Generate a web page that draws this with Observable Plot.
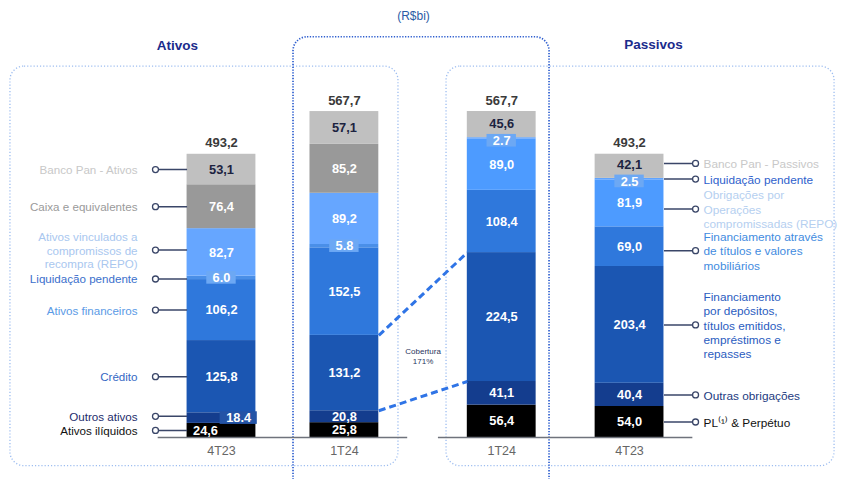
<!DOCTYPE html>
<html><head><meta charset="utf-8">
<script src="https://cdn.jsdelivr.net/npm/d3@7"></script>
<script src="https://cdn.jsdelivr.net/npm/@observablehq/plot@0.6"></script>
<style>
html,body{margin:0;padding:0;background:#fff}
#chart svg{display:block}
</style></head><body><div id="chart"></div>
<script>
// ---------------- DATA ----------------
const columnNames = ["4T23", "1T24", "1T24", "4T23"];
const assetLabels = [
  "Ativos ilíquidos", "Outros ativos", "Crédito", "Ativos financeiros",
  "Liquidação pendente", "Ativos vinculados a\ncompromissos de\nrecompra (REPO)",
  "Caixa e equivalentes", "Banco Pan - Ativos"
];
const assets4T23 = [24.6, 18.4, 125.8, 106.2, 6.0, 82.7, 76.4, 53.1];
const assets1T24 = [25.8, 20.8, 131.2, 152.5, 5.8, 89.2, 85.2, 57.1];
const liabLabels = [
  "PL⁽¹⁾ & Perpétuo", "Outras obrigações",
  "Financiamento\npor depósitos,\ntítulos emitidos,\nempréstimos e\nrepasses",
  "Financiamento através\nde títulos e valores\nmobiliários",
  "Obrigações por\nOperações\ncompromissadas (REPO)",
  "Liquidação pendente", "Banco Pan - Passivos"
];
const liab1T24 = [56.4, 41.1, 224.5, 108.4, 89.0, 2.7, 45.6];
const liab4T23 = [54.0, 40.4, 203.4, 69.0, 81.9, 2.5, 42.1];
const totals = [493.2, 567.7, 567.7, 493.2];
const unitText = "(R$bi)";
const sideTitles = ["Ativos", "Passivos"];
const coverageText = "Cobertura\n171%";

// ---------------- LAYOUT / STYLE ----------------
const FONT = "'Liberation Sans', Arial, Helvetica, sans-serif";
const slot = [0, 1, 2.28, 3.32];          // column centres on the x scale
const half = 0.28;                         // half bar width (x units)
const axisPad = 0.235;
const assetFill = ["#000000", "#143d8e", "#1b56b2", "#2f78dc", "#4a8fe8", "#66a6ff", "#999999", "#c0c0c0"];
const liabFill  = ["#000000", "#143d8e", "#1b56b2", "#2f78dc", "#4d9bff", "#5fa3ff", "#bfbfbf"];
const assetLabelColor = ["#111111", "#1c2c6c", "#3467c4", "#5a9ae6", "#3b6fcc", "#a9c7ef", "#9a9a9a", "#c8c8c8"];
const liabLabelColor  = ["#111111", "#1c3a80", "#2a5cc0", "#3f8be0", "#b5cff0", "#2f5fcc", "#c8c8c8"];
const assetLabelShift = [0, 3, 0, 0, -2, 4, 0, 0];   // y-units nudge for left labels
const liabLabelShift  = [0, 0, 0, -7, -10, 0, 5];    // y-units nudge for right labels
const valueDx4T23 = [-0.13, 0.14];                   // nudges of the two smallest labels in first column
const liabValueShift = [0, 0, 0, 0, 0, -4, 2];       // y-units nudge of value labels in liability bars

const stacks = [assets4T23, assets1T24, liab1T24, liab4T23];
const segs = [];
stacks.forEach((vals, c) => {
  let cum = 0;
  vals.forEach((v, i) => {
    const asset = c < 2;
    segs.push({
      c, i, v, y1: cum, y2: cum + v, mid: cum + v / 2,
      ly: cum + v / 2 + (asset ? 0 : liabValueShift[i]),
      fill: asset ? assetFill[i] : liabFill[i],
      isPan: asset ? i === 7 : i === 6,
      small: v < 20 && i !== 0,
      xc: slot[c] + (c === 0 && i < 2 ? valueDx4T23[i] : 0)
    });
    cum += v;
  });
});
const fmt = d3.format(".1f");
const valueLabel = v => v < 20 ? fmt(v) : fmt(v).replace(".", ",");
const commaLabel = v => fmt(v).replace(".", ",");

const leftRows = segs.filter(d => d.c === 0).map(d => ({mid: d.mid + assetLabelShift[d.i], text: assetLabels[d.i], color: assetLabelColor[d.i]}));
const rightRows = segs.filter(d => d.c === 3).map(d => ({mid: d.mid + liabLabelShift[d.i], text: liabLabels[d.i], color: liabLabelColor[d.i]}));

const cum = (arr, n) => d3.sum(arr.slice(0, n));
const coverageLinks = [
  {x1: slot[1] + half, y1: cum(assets1T24, 3), x2: slot[2] - half, y2: cum(liab1T24, 3)},
  {x1: slot[1] + half, y1: cum(assets1T24, 2), x2: slot[2] - half, y2: cum(liab1T24, 2)}
];
const baselines = [
  {x1: slot[0] - half - axisPad, x2: slot[1] + half + axisPad},
  {x1: slot[2] - half - axisPad, x2: slot[3] + half + axisPad}
];
const outerBoxes = [
  {x1: -1.717, x2: 1.440, y1: -50, y2: 646},
  {x1: 1.831, x2: 4.988, y1: -50, y2: 646}
];
const middleBox = [{x1: 0.586, x2: 2.669, y1: -95, y2: 697}];
const titleRows = [
  {x: -0.358, y: 683, text: sideTitles[0]},
  {x: 3.515, y: 684, text: sideTitles[1]}
];

const tickName = new Map(slot.map((s, i) => [s, columnNames[i]]));

const chart = Plot.plot({
  width: 845, height: 479,
  marginLeft: 0, marginRight: 0, marginTop: 0, marginBottom: 42,
  style: {fontFamily: FONT, background: "#fff", overflow: "visible"},
  x: {domain: [-1.798, 5.077], range: [0, 845]},
  y: {domain: [0, 761], range: [437, 0], axis: null},
  color: {type: "identity"},
  marks: [
    Plot.rect(outerBoxes, {x1: "x1", x2: "x2", y1: "y1", y2: "y2", fill: "none", stroke: "#9dbdf0",
      strokeWidth: 1.3, strokeDasharray: "1.2,2", rx: 14}),
    Plot.rect(middleBox, {x1: "x1", x2: "x2", y1: "y1", y2: "y2", fill: "none", stroke: "#2f5fcf",
      strokeWidth: 1.7, strokeDasharray: "1.3,1.5", rx: 14}),
    Plot.rect(segs, {x1: d => slot[d.c] - half, x2: d => slot[d.c] + half, y1: "y1", y2: "y2", fill: d => d.fill}),
    Plot.ruleY(baselines, {x1: "x1", x2: "x2", y: () => 0, stroke: "#6f737c", strokeWidth: 1.6}),
    Plot.link(coverageLinks, {x1: "x1", y1: "y1", x2: "x2", y2: "y2", stroke: "#2f74e6", strokeWidth: 3, strokeDasharray: "7,4"}),
    // small-value label boxes
    Plot.rect(segs.filter(d => d.small), {
      x1: d => d.xc - (valueLabel(d.v).length * 3.9 + 3) / 122.9,
      x2: d => d.xc + (valueLabel(d.v).length * 3.9 + 3) / 122.9,
      y1: d => d.ly - 11, y2: d => d.ly + 11,
      fill: d => d.i === 1 ? "#2454a6" : "#6ca8f4"
    }),
    Plot.text(segs, {x: "xc", y: "ly", text: d => valueLabel(d.v),
      fill: d => d.isPan ? "#1c2340" : "#ffffff", fontSize: 12.8, fontWeight: "bold"}),
    Plot.text(slot.map((s, c) => ({x: s, y: d3.sum(stacks[c]), t: totals[c]})), {
      x: "x", y: "y", text: d => commaLabel(d.t), dy: -11, fontSize: 13, fontWeight: "bold", fill: "#3a3a3a"}),
    // left legend-like labels
    Plot.link(leftRows, {x1: -0.537, x2: slot[0] - half, y1: "mid", y2: "mid", stroke: "#3a4668", strokeWidth: 1.5}),
    Plot.dot(leftRows, {x: -0.537, y: "mid", r: 3, fill: "#fff", stroke: "#3a4668", strokeWidth: 1.3}),
    Plot.text(leftRows, {x: -0.683, y: "mid", text: "text", fill: "color", textAnchor: "end", fontSize: 11.6, lineHeight: 1.2}),
    // right legend-like labels
    Plot.link(rightRows, {x1: slot[3] + half, x2: slot[3] + 0.537, y1: "mid", y2: "mid", stroke: "#3a4668", strokeWidth: 1.5}),
    Plot.dot(rightRows, {x: slot[3] + 0.537, y: "mid", r: 3, fill: "#fff", stroke: "#3a4668", strokeWidth: 1.3}),
    Plot.text(rightRows, {x: slot[3] + 0.602, y: "mid", text: "text", fill: "color", textAnchor: "start", fontSize: 11.8, lineHeight: 1.22}),
    // headers
    Plot.text([unitText], {x: 1.562, y: 733, text: d => d, fontSize: 12, fill: "#2b5ca6"}),
    Plot.text(titleRows, {x: "x", y: "y", text: "text", fontSize: 13.5, fontWeight: "bold", fill: "#1b2b8c"}),
    Plot.text([coverageText], {x: (slot[1] + slot[2]) / 2, y: 143, text: d => d, fontSize: 8, fill: "#2a3560", lineHeight: 1.3}),
    Plot.axisX({ticks: slot, tickFormat: d => tickName.get(d), tickSize: 0, tickPadding: 9, fontSize: 12.5, fill: "#666"})
  ]
});
document.getElementById("chart").appendChild(chart);
</script>
</body></html>
